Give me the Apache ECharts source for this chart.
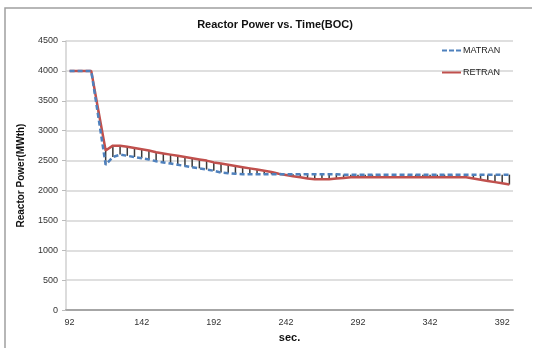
<!DOCTYPE html>
<html>
<head>
<meta charset="utf-8">
<script src="https://cdn.jsdelivr.net/npm/echarts@6/dist/echarts.min.js"></script>
<style>
  html, body { margin: 0; padding: 0; background: #fff; }
  #main { width: 535px; height: 348px; }
</style>
</head>
<body>
<div id="main"></div>
<script>
// time steps, 5 s apart
const seconds = [];
for (let s = 92; s <= 397; s += 5) seconds.push(String(s));

const retran = [
  4000, 4000, 4000, 4000, 3330, 2670, 2750, 2750, 2730, 2710,
  2690, 2670, 2640, 2620, 2600, 2580, 2560, 2540, 2520, 2500,
  2470, 2450, 2430, 2410, 2390, 2370, 2350, 2330, 2310, 2280,
  2260, 2240, 2220, 2200, 2190, 2190, 2190, 2200, 2210, 2220,
  2220, 2220, 2220, 2220, 2220, 2220, 2220, 2220, 2220, 2220,
  2220, 2220, 2220, 2220, 2220, 2220, 2200, 2180, 2160, 2140,
  2120, 2100
];
const matran = [
  4000, 4000, 4000, 4000, 3220, 2430, 2560, 2600, 2580, 2560,
  2540, 2520, 2490, 2470, 2450, 2430, 2410, 2390, 2370, 2350,
  2330, 2300, 2290, 2280, 2270, 2270, 2270, 2270, 2270, 2270,
  2270, 2270, 2270, 2270, 2270, 2270, 2270, 2270, 2265, 2265,
  2265, 2265, 2265, 2265, 2265, 2265, 2265, 2265, 2265, 2265,
  2265, 2265, 2265, 2265, 2265, 2265, 2265, 2265, 2265, 2265,
  2265, 2265
];

const chartDom = document.getElementById('main');
const myChart = echarts.init(chartDom);

// high-low lines between the two series
const hiLo = seconds.map(function (s, i) { return [i, retran[i], matran[i]]; });

const font = 'Liberation Sans, Arial, sans-serif';

const option = {
  animation: false,
  backgroundColor: '#fff',
  textStyle: { fontFamily: font },
  graphic: [{
    type: 'polyline',
    shape: { points: [[5, 348], [5, 8], [532, 8]] },
    style: { stroke: '#a0a0a0', lineWidth: 1.5, fill: null }
  }],
  title: {
    text: 'Reactor Power vs. Time(BOC)',
    left: 270, top: 14, textAlign: 'center',
    textStyle: { fontSize: 11, fontWeight: 'bold', color: '#111', fontFamily: font }
  },
  legend: {
    orient: 'vertical',
    left: 437, top: 41,
    itemGap: 13, itemWidth: 19, itemHeight: 10,
    textStyle: { fontSize: 9, color: '#222', padding: [0, 0, 0, -3] },
    data: [
      { name: 'MATRAN', icon: 'path://M0,4h5v2h-5z M7,4h5v2h-5z M14,4h5v2h-5z', itemStyle: { color: '#4f81bd' } },
      { name: 'RETRAN', icon: 'path://M0,4h19v2h-19z', itemStyle: { color: '#c0504d' } }
    ]
  },
  grid: { left: 66, right: 22, top: 41, bottom: 32 },
  xAxis: {
    type: 'category',
    data: seconds,
    boundaryGap: true,
    name: 'sec.',
    nameLocation: 'middle',
    nameGap: 20,
    nameTextStyle: { fontSize: 11, fontWeight: 'bold', color: '#111' },
    axisLine: { lineStyle: { color: '#a6a6a6', width: 2 } },
    axisTick: { show: false },
    axisLabel: { interval: 9, fontSize: 9, color: '#333', margin: 8 },
    splitLine: { show: false }
  },
  yAxis: {
    type: 'value',
    min: 0, max: 4500, interval: 500,
    name: 'Reactor Power(MWth)',
    nameLocation: 'middle',
    nameGap: 40,
    nameTextStyle: { fontSize: 10, fontWeight: 'bold', color: '#111' },
    axisLine: { show: true, lineStyle: { color: '#d0d0d0', width: 1.5 } },
    axisTick: { show: true, length: 4, lineStyle: { color: '#bbb' } },
    axisLabel: { fontSize: 9, color: '#333', margin: 8, formatter: function (v) { return String(v); } },
    splitLine: { lineStyle: { color: '#d4d4d4', width: 1.5 } }
  },
  series: [
    {
      type: 'custom',
      name: 'hilo',
      z: 1,
      silent: true,
      encode: { x: 0, y: [1, 2] },
      data: hiLo,
      renderItem: function (params, api) {
        const a = api.coord([api.value(0), api.value(1)]);
        const b = api.coord([api.value(0), api.value(2)]);
        return {
          type: 'line',
          shape: { x1: a[0], y1: a[1], x2: b[0], y2: b[1] },
          style: { stroke: '#3a3a3a', lineWidth: 1.5 }
        };
      }
    },
    {
      name: 'MATRAN',
      type: 'line',
      z: 3,
      data: matran,
      showSymbol: false,
      lineStyle: { color: '#4f81bd', width: 2.5, type: [5, 3] },
      itemStyle: { color: '#4f81bd' }
    },
    {
      name: 'RETRAN',
      type: 'line',
      z: 2,
      data: retran,
      showSymbol: false,
      lineStyle: { color: '#c0504d', width: 2.5 },
      itemStyle: { color: '#c0504d' }
    }
  ]
};

option && myChart.setOption(option);
</script>
</body>
</html>
